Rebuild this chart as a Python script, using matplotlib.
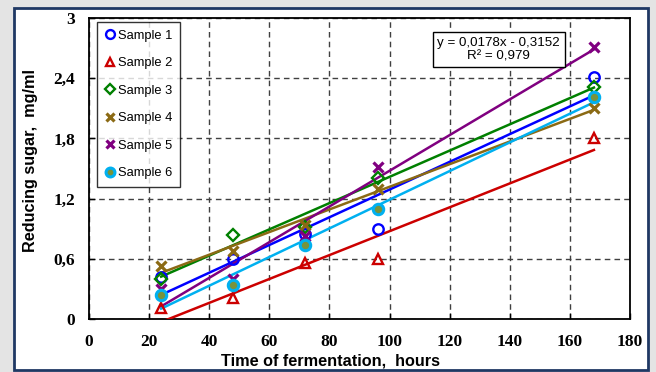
import numpy as np
import matplotlib
matplotlib.use('Agg')
import matplotlib.pyplot as plt
from matplotlib.patches import Rectangle

# hours of fermentation
hours = [24, 48, 72, 96, 168]

# reducing sugar, mg/ml
sample1 = [0.42, 0.60, 0.85, 0.90, 2.41]
sample2 = [0.11, 0.21, 0.56, 0.60, 1.80]
sample3 = [0.40, 0.84, 0.92, 1.41, 2.31]
sample4 = [0.53, 0.68, 0.94, 1.30, 2.10]
sample5 = [0.30, 0.40, 0.83, 1.51, 2.71]
sample6 = [0.24, 0.34, 0.74, 1.10, 2.21]

names = ['Sample 1', 'Sample 2', 'Sample 3', 'Sample 4', 'Sample 5', 'Sample 6']
x_ticks = [0, 20, 40, 60, 80, 100, 120, 140, 160, 180]
y_ticks = [0, 0.6, 1.2, 1.8, 2.4, 3.0]
y_tick_labels = ['0', '0,6', '1,2', '1,8', '2,4', '3']

# style per sample: colour, marker, face colour
styles = [
    ('#0000FF', 'o', 'none'),
    ('#CC0000', '^', 'none'),
    ('#008000', 'D', 'none'),
    ('#8B6A14', 'x', 'none'),
    ('#800080', 'x', 'none'),
    ('#00B0F0', 'o', '#77933C'),
]
line_colors = ['#0000FF', '#CC0000', '#008000', '#8B6A14', '#800080', '#00B0F0']

fig = plt.figure(figsize=(6.56, 3.72), dpi=100)
fig.patch.set_facecolor('#e4e4e4')
frame = Rectangle((13.5 / 656, 2 / 372), 634.5 / 656, 362 / 372,
                  transform=fig.transFigure, facecolor='white',
                  edgecolor='#1F3864', lw=2, zorder=-10)
fig.add_artist(frame)

ax = fig.add_axes([89 / 656, 1 - 319 / 372, 541 / 656, 301 / 372])
ax.set_zorder(5)
ax.set_facecolor('white')

data = [sample1, sample2, sample3, sample4, sample5, sample6]
xs = np.array(hours)
# trend lines first, markers on top
for vals, lc in zip(data, line_colors):
    k, b = np.polyfit(xs, vals, 1)
    ax.plot([xs[0], xs[-1]], [k * xs[0] + b, k * xs[-1] + b], color=lc, lw=1.8, zorder=3)

for vals, name, (c, m, fc) in zip(data, names, styles):
    ms = 7.5
    mew = 1.7
    if m == 'D':
        ms = 6.5
    if m == 'x':
        mew = 2.3
        ms = 6.5
    if fc != 'none':
        mew = 2.2
    ax.plot(hours, vals, linestyle='none', marker=m, markersize=ms,
            markerfacecolor=fc, markeredgecolor=c, markeredgewidth=mew,
            label=name, zorder=4)

ax.set_xlim(0, 180)
ax.set_ylim(0, 3)
ax.set_xticks(x_ticks)
ax.set_yticks(y_ticks)
ax.set_yticklabels(y_tick_labels)
ax.grid(True, color='#404040', linestyle=(0, (4, 3)), lw=1)
ax.tick_params(direction='in', length=4, width=1)
ax.tick_params(axis='x', pad=11)
ax.tick_params(axis='y', pad=10)
for lab in ax.get_xticklabels() + ax.get_yticklabels():
    lab.set_fontfamily('Liberation Serif')
    lab.set_fontweight('bold')
    lab.set_fontsize(12.5)
for s in ax.spines.values():
    s.set_linewidth(1.3)
    s.set_color('black')

leg = ax.legend(loc='upper left', bbox_to_anchor=(8 / 541, 1 - 4 / 301),
                frameon=True, fancybox=False, borderaxespad=0,
                prop={'family': 'Liberation Sans', 'size': 9.3},
                labelspacing=1.2, handlelength=0.8, handletextpad=0.2,
                borderpad=0.6, markerscale=0.85)
leg.get_frame().set_edgecolor('black')
leg.get_frame().set_linewidth(1)

ax.text(0.757, 0.895, 'y = 0,0178x - 0,3152\nR² = 0,979', transform=ax.transAxes,
        ha='center', va='center', fontsize=9.6, family='Liberation Sans',
        linespacing=1.15, zorder=6,
        bbox=dict(boxstyle='square,pad=0.35', facecolor='white', edgecolor='black', lw=1))

fig.text(331 / 656, 1 - 361 / 372, 'Time of fermentation,  hours', ha='center', va='center',
         fontsize=11.7, fontweight='bold', family='Liberation Sans')
fig.text(31 / 656, 1 - 160 / 372, 'Reducing sugar,  mg/ml', ha='center', va='center',
         rotation=90, fontsize=11.7, fontweight='bold', family='Liberation Sans')

fig.savefig('out.png', dpi=100, facecolor=fig.get_facecolor())
